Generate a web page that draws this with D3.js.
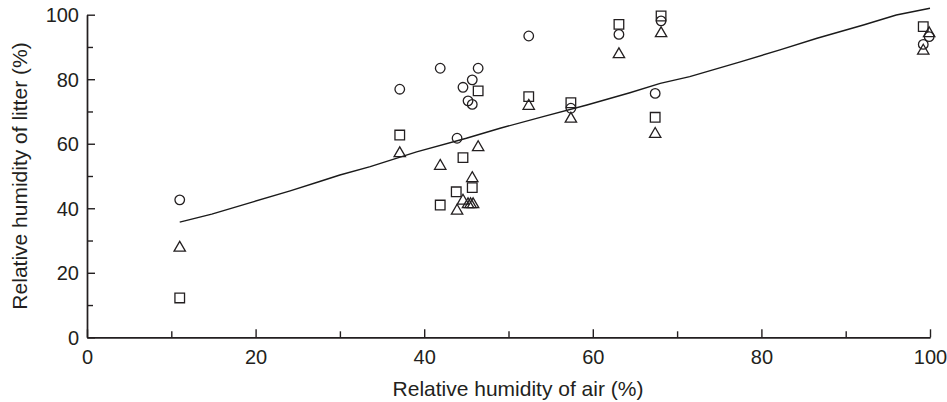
<!DOCTYPE html>
<html>
<head>
<meta charset="utf-8">
<script src="https://cdn.jsdelivr.net/npm/d3@7"></script>
<style>
  body { margin: 0; background: #fff; }
  svg text { font-family: "Liberation Sans", Arial, Helvetica, sans-serif; fill: #231f20; }
  .axis path, .axis line { stroke: #231f20; stroke-width: 1.4; }
</style>
</head>
<body>
<div id="chart"></div>
<script>
// air humidity (x) vs litter humidity (y), three series
const circleAir = [11.0, 37.1, 41.9, 43.9, 44.6, 45.2, 45.7, 45.7, 46.4, 52.4, 57.4, 63.1, 67.4, 68.1, 99.2, 99.9];
const circleLitter = [42.6, 76.9, 83.4, 61.7, 77.5, 73.3, 79.8, 72.2, 83.4, 93.4, 71.0, 93.9, 75.6, 98.1, 90.8, 93.2];

const squareAir = [11.0, 37.1, 41.9, 43.8, 44.6, 45.7, 46.4, 52.4, 57.4, 63.1, 67.4, 68.1, 99.2];
const squareLitter = [12.2, 62.7, 41.0, 45.1, 55.7, 46.4, 76.4, 74.6, 72.7, 97.0, 68.2, 99.6, 96.3];

const triangleAir = [11.0, 37.1, 41.9, 43.9, 44.6, 45.2, 45.5, 45.8, 45.7, 46.4, 52.4, 57.4, 63.1, 67.4, 68.1, 99.2, 99.9];
const triangleLitter = [27.7, 57.0, 53.1, 39.2, 42.3, 41.2, 41.2, 41.2, 49.3, 58.9, 71.7, 67.7, 87.7, 63.0, 94.2, 88.8, 94.2];

// fitted curve
const lineAir = [11.0, 14.8, 19.7, 24.1, 27.6, 30.0, 33.6, 39.1, 45.0, 49.0, 54.1, 59.3, 64.4, 68.0, 71.5, 77.5, 82.2, 86.6, 92.1, 96.0, 100];
const lineLitter = [35.7, 38.2, 42.0, 45.4, 48.3, 50.3, 52.9, 57.5, 61.7, 64.8, 68.4, 72.0, 75.8, 78.7, 80.8, 85.4, 89.1, 92.7, 96.8, 99.9, 102.0];

const majorTicks = [0, 20, 40, 60, 80, 100];
const minorTicks = [10, 30, 50, 70, 90];

const width = 947, height = 402;

const svg = d3.select('#chart').append('svg')
    .attr('width', width)
    .attr('height', height);

const xScale = d3.scaleLinear().domain([0, 100]).range([87, 930]);
const yScale = d3.scaleLinear().domain([0, 100]).range([337.3, 14.7]);

// axes: ticks point inward
const xMinor = d3.axisBottom(xScale).tickValues(minorTicks).tickSize(-6).tickSizeOuter(0).tickFormat('');
const yMinor = d3.axisLeft(yScale).tickValues(minorTicks).tickSize(-6).tickSizeOuter(0).tickFormat('');
const xAxis = d3.axisBottom(xScale).tickValues(majorTicks).tickSize(-8).tickSizeOuter(0).tickPadding(13);
const yAxis = d3.axisLeft(yScale).tickValues(majorTicks).tickSize(-8).tickSizeOuter(0).tickPadding(8);

const y0 = yScale(0), x0 = xScale(0);

svg.append('g').attr('class', 'axis').attr('transform', `translate(0,${y0})`).call(xMinor);
svg.append('g').attr('class', 'axis').attr('transform', `translate(${x0},0)`).call(yMinor);

const xAxisG = svg.append('g').attr('class', 'axis').attr('transform', `translate(0,${y0})`).call(xAxis);
const yAxisG = svg.append('g').attr('class', 'axis').attr('transform', `translate(${x0},0)`).call(yAxis);

xAxisG.selectAll('.tick text').attr('font-size', 20).attr('fill', '#231f20');
yAxisG.selectAll('.tick text').attr('font-size', 20).attr('fill', '#231f20').attr('dy', '0.36em');
svg.selectAll('.axis .domain').attr('stroke', '#231f20');

// curve
const line = d3.line()
    .x((d, i) => xScale(lineAir[i]))
    .y(d => yScale(d));

svg.append('path')
    .datum(lineLitter)
    .attr('d', line)
    .attr('fill', 'none')
    .attr('stroke', '#1a1a1a')
    .attr('stroke-width', 1.4);

// markers
const series = [
  {air: circleAir, litter: circleLitter, type: d3.symbolCircle, size: 72},
  {air: squareAir, litter: squareLitter, type: d3.symbolSquare, size: 92},
  {air: triangleAir, litter: triangleLitter, type: d3.symbolTriangle, size: 56},
];

series.forEach(s => {
  const pts = s.air.map((a, i) => ({air: a, litter: s.litter[i]}));
  svg.append('g').selectAll('path')
      .data(pts)
      .join('path')
      .attr('d', d3.symbol().type(s.type).size(s.size))
      .attr('transform', d => `translate(${xScale(d.air)},${yScale(d.litter)})`)
      .attr('fill', 'none')
      .attr('stroke', '#231f20')
      .attr('stroke-width', 1.3);
});

// axis titles
svg.append('text')
    .attr('x', 518)
    .attr('y', 396)
    .attr('text-anchor', 'middle')
    .attr('font-size', 21)
    .text('Relative humidity of air (%)');

svg.append('text')
    .attr('transform', 'translate(27,176) rotate(-90)')
    .attr('text-anchor', 'middle')
    .attr('font-size', 21)
    .text('Relative humidity of litter (%)');
</script>
</body>
</html>
